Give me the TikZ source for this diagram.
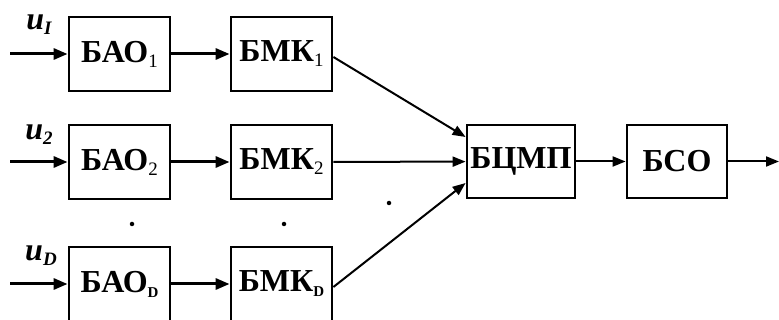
\documentclass[tikz,border=0pt]{standalone}
\usepackage{fontspec}
\setmainfont{Liberation Serif}
\usetikzlibrary{arrows.meta,calc}

% lowered, lighter index after a block name
\newcommand\blkidx[1]{\raisebox{-5pt}{\fontsize{19}{19}\selectfont\mdseries #1}}
% index of an input signal
\newcommand\sigidx[1]{\raisebox{-5pt}{\fontsize{19}{19}\selectfont #1}}

\begin{document}
\begin{tikzpicture}[x=1pt,y=-1pt,
  blk/.style={draw,line width=2.8pt,minimum width=101pt,minimum height=74pt,
    inner sep=0pt,font=\fontsize{32}{32}\selectfont\bfseries},
  heavyarrow/.style={line width=3pt,-{Triangle[length=14pt,width=11pt]}},
  lightarrow/.style={line width=2pt,-{Triangle[length=13pt,width=10pt]}},
  siglabel/.style={font=\fontsize{32}{32}\selectfont\bfseries\itshape,inner sep=0pt},
  dotmark/.style={circle,fill,inner sep=0pt,minimum size=4.5pt}]
\useasboundingbox (0,0) rectangle (779,320);

% blocks of the three channels
\node[blk] (bao1) at (119.5,54)  {БАО\blkidx{1}};
\node[blk] (bmk1) at (281.5,54)  {БМК\blkidx{1}};
\node[blk] (bao2) at (119.5,162) {БАО\blkidx{2}};
\node[blk] (bmk2) at (281.5,162) {БМК\blkidx{2}};
\node[blk] (baod) at (119.5,284) {БАО\blkidx{\fontsize{15}{15}\selectfont\bfseries D}};
\node[blk] (bmkd) at (281.5,284) {БМК\blkidx{\fontsize{15}{15}\selectfont\bfseries D}};

% common processing chain
\node[blk,minimum width=108pt,minimum height=73pt] (bcmp) at (521,161.5) {БЦМП};
\node[blk,minimum width=100pt,minimum height=73pt] (bso)  at (677,161.5) {БСО};

% input signals
\node[siglabel] (u1) at (39,25)  {u\sigidx{I}};
\node[siglabel] (u2) at (39,135) {u\sigidx{2}};
\node[siglabel] (ud) at (41,256) {u\sigidx{\bfseries D}};

\coordinate (in1) at (10,54);
\coordinate (in2) at (10,162);
\coordinate (ind) at (10,284);
\coordinate (out) at (779,161.5);

% ellipsis dots between channels
\node[dotmark] (dA) at (132,224) {};
\node[dotmark] (dB) at (284,224) {};
\node[dotmark] (dC) at (389,203) {};

% connections
\draw[heavyarrow] (in1) -- (bao1);
\draw[heavyarrow] (in2) -- (bao2);
\draw[heavyarrow] (ind) -- (baod);
\draw[heavyarrow] (bao1) -- (bmk1);
\draw[heavyarrow] (bao2) -- (bmk2);
\draw[heavyarrow] (baod) -- (bmkd);

\draw[lightarrow] ([yshift=-3pt]bmk1.east) -- ([yshift=24.5pt]bcmp.west);
\draw[lightarrow] (bmk2) -- (bcmp);
\draw[lightarrow] ([yshift=-3pt]bmkd.east) -- ([yshift=-21.5pt]bcmp.west);

\draw[lightarrow] (bcmp) -- (bso);
\draw[lightarrow] (bso) -- (out);
\end{tikzpicture}
\end{document}
